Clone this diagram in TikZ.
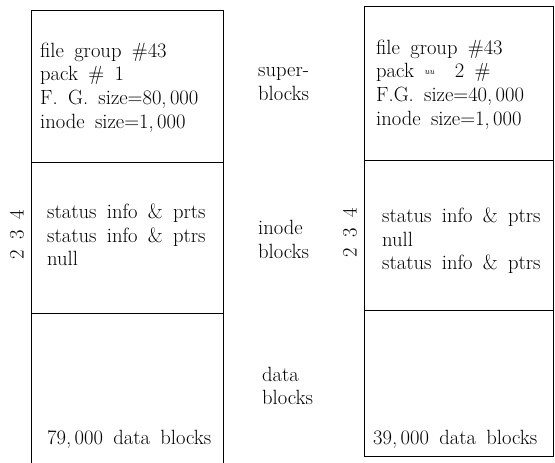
\documentclass[tikz,border=0pt]{standalone}
\usepackage{fontspec}
\newcommand\blkfont{\fontsize{20.6}{23.7}\selectfont\spaceskip=0.5em plus 0.1em minus 0.05em\relax}
\tikzset{
  sect/.style={draw, line width=1.1pt, inner sep=0pt, anchor=north west},
  blk/.style={inner sep=0pt, anchor=north west, align=left, font=\blkfont},
  rot/.style={inner sep=0pt, rotate=90, font=\blkfont},
}
\begin{document}
\begin{tikzpicture}[x=1pt,y=-1pt]
\useasboundingbox (0,0) rectangle (555,463);

% left file group (pack 1)
\node[sect, minimum width=192, minimum height=152] (lsup) at (31,10) {};
\node[sect, minimum width=192, minimum height=151] (lino) at (31,162) {};
\node[sect, minimum width=192, minimum height=162] (ldat) at (31,313) {};

\node[blk] (lsuptext) at (40,42.5) {file group \#43\\pack \# 1\\F. G. size=80,\,000\\inode size=1,\,000};
\node[blk] (linotext) at (47,203.5) {status info \& prts\\status info \& ptrs\\null};
\node[blk] (ldattext) at (47,430.5) {79,\,000 data blocks};
\node[rot] (lnum) at (17,235) {2 3 4};

% right file group (pack 2)
\node[sect, minimum width=189, minimum height=154] (rsup) at (364,6) {};
\node[sect, minimum width=189, minimum height=150] (rino) at (364,160) {};
\node[sect, minimum width=189, minimum height=146] (rdat) at (364,310) {};

\node[blk] (rsuptext) at (376,39.5) {file group \#43\\pack {\small\itshape\raisebox{3pt}{uu}}\ \ 2 \#\\F.G. size=40,\,000\\inode size=1,\,000};
\node[blk] (rinotext) at (382,207.5) {status info \& ptrs\\null\\status info \& ptrs};
\node[blk] (rdattext) at (373,430.5) {39,\,000 data blocks};
\node[rot] (rnum) at (350,233) {2 3 4};

% region labels between the two groups
\node[blk] (lblsup) at (258,67.5) {super-\\blocks};
\node[blk] (lblino) at (258,220.5) {inode\\blocks};
\node[blk] (lbldat) at (262,366.5) {data\\blocks};
\end{tikzpicture}
\end{document}
